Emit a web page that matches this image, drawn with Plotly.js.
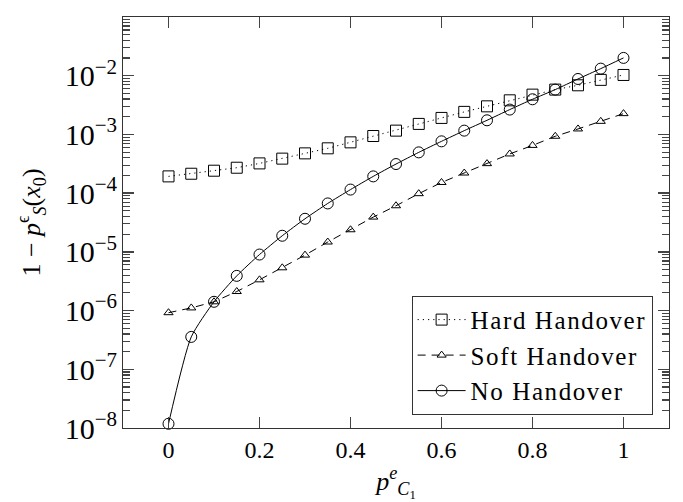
<!DOCTYPE html>
<html><head><meta charset="utf-8">
<script src="https://cdn.plot.ly/plotly-3.0.1.min.js"></script>
<style>html,body{margin:0;padding:0;background:#fff}#chart{width:683px;height:502px}
.legendtext{letter-spacing:1.6px}</style>
</head><body><div id="chart"></div>
<script>
const pValues = [0, 0.05, 0.1, 0.15, 0.2, 0.25, 0.3, 0.35, 0.4, 0.45, 0.5, 0.55, 0.6, 0.65, 0.7, 0.75, 0.8, 0.85, 0.9, 0.95, 1];
const hardHandover = [1.93e-4, 2.14e-4, 2.41e-4, 2.71e-4, 3.21e-4, 3.87e-4, 4.76e-4, 5.80e-4, 7.33e-4, 9.4e-4, 1.16e-3, 1.51e-3, 1.91e-3, 2.42e-3, 3.01e-3, 3.81e-3, 4.76e-3, 5.8e-3, 6.87e-3, 8.5e-3, 1.03e-2];
const softHandover = [9.2e-7, 1.11e-6, 1.41e-6, 2.11e-6, 3.34e-6, 5.35e-6, 8.8e-6, 1.47e-5, 2.38e-5, 3.91e-5, 6.1e-5, 9.8e-5, 1.52e-4, 2.2e-4, 3.18e-4, 4.65e-4, 6.5e-4, 9.3e-4, 1.24e-3, 1.67e-3, 2.26e-3];
const noHandover = [1.18e-8, 3.56e-7, 1.41e-6, 3.9e-6, 9.0e-6, 1.88e-5, 3.66e-5, 6.68e-5, 1.15e-4, 1.93e-4, 3.13e-4, 4.95e-4, 7.63e-4, 1.16e-3, 1.74e-3, 2.65e-3, 3.97e-3, 5.8e-3, 8.8e-3, 1.32e-2, 2.01e-2];
const seriesNames = ['Hard Handover', 'Soft Handover', 'No Handover'];

const FONT = '"Liberation Serif", "DejaVu Serif", serif';
const traces = [
  {x: pValues, y: hardHandover, name: seriesNames[0], mode: 'lines+markers', cliponaxis: false,
   line: {color: '#000', width: 1, dash: '1.2px,4px'},
   marker: {symbol: 'square-open', size: 11, color: '#000', line: {width: 1, color: '#000'}}},
  {x: pValues, y: softHandover, name: seriesNames[1], mode: 'lines+markers', cliponaxis: false,
   line: {color: '#000', width: 1, dash: '8px,6px'},
   marker: {symbol: 'triangle-up-open', size: 8, color: '#000', line: {width: 1, color: '#000'}}},
  {x: pValues, y: noHandover, name: seriesNames[2], mode: 'lines+markers', cliponaxis: false,
   line: {color: '#000', width: 1, shape: 'spline', smoothing: 0.6},
   marker: {symbol: 'circle-open', size: 11, color: '#000', line: {width: 1, color: '#000'}}}
];

const layout = {
  width: 683, height: 502,
  margin: {l: 123, r: 14, t: 17, b: 74},
  paper_bgcolor: '#fff', plot_bgcolor: '#fff',
  font: {family: FONT, size: 24, color: '#000'},
  showlegend: true,
  legend: {x: 0.97, xanchor: 'right', y: 0.032, yanchor: 'bottom',
    bgcolor: '#fff', bordercolor: '#333', borderwidth: 1,
    font: {family: FONT, size: 25, color: '#000'}, itemwidth: 48, tracegroupgap: 0},
  xaxis: {
    range: [-0.1, 1.1], dtick: 0.2,
    showgrid: false, zeroline: false,
    showline: true, linecolor: '#333', linewidth: 1.2, mirror: 'allticks',
    ticks: 'inside', ticklen: 11, tickcolor: '#444', tickwidth: 1.5,
    tickfont: {family: FONT, size: 24},
    title: {text: '<i>p</i><sup><i>e</i></sup><sub><i>C</i><sub>1</sub></sub>', font: {family: FONT, size: 26}, standoff: 14}
  },
  yaxis: {
    type: 'log', range: [-8, -1], dtick: 1, exponentformat: 'power',
    showgrid: false, zeroline: false,
    showline: true, linecolor: '#333', linewidth: 1.2, mirror: 'allticks',
    ticks: 'inside', ticklen: 11, tickcolor: '#444', tickwidth: 1.5,
    minor: {dtick: 'D1', ticks: 'inside', ticklen: 7, tickcolor: '#444', tickwidth: 1.2, showgrid: false},
    tickfont: {family: FONT, size: 24},
    title: {text: '1 − <i>p</i><sup>ϵ</sup><sub><i>S</i></sub>(<i>x</i><sub>0</sub>)', font: {family: FONT, size: 26}, standoff: 16}
  }
};

Plotly.newPlot('chart', traces, layout, {displayModeBar: false, staticPlot: true});
</script>
</body></html>
